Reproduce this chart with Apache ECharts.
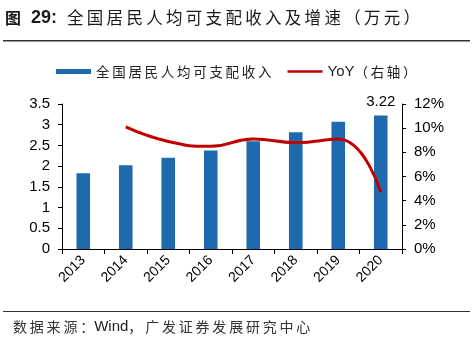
<!DOCTYPE html>
<html><head><meta charset="utf-8">
<script src="https://cdn.jsdelivr.net/npm/echarts@6/dist/echarts.min.js"></script>
<style>html,body{margin:0;padding:0;background:#fff}#c{width:474px;height:347px}</style>
</head><body><div id="c"></div>
<script>
const years = ['2013','2014','2015','2016','2017','2018','2019','2020'];
const income = [1.83, 2.02, 2.20, 2.38, 2.60, 2.82, 3.07, 3.22];
const yoy = [null, 10.1, 8.9, 8.5, 9.1, 8.8, 9.1, 4.7];
const leftTicks = ['0','0.5','1','1.5','2','2.5','3','3.5'];
const rightTicks = ['0%','2%','4%','6%','8%','10%','12%'];
const barName = '全国居民人均可支配收入';
const lineName = 'YoY（右轴）';

const font = '"Liberation Sans", Arial, "Noto Sans CJK SC", sans-serif';
const cjk = '"Noto Sans CJK SC", sans-serif';
const sp = (s) => Array.from(s).join('\u2009');
const chart = echarts.init(document.getElementById('c'), null, {renderer:'canvas'});
chart.setOption({
  animation:false,
  textStyle:{fontFamily:font},
  graphic:[
    {type:'text', left:5, top:9, style:{
      rich:{
        a:{font:'bold 16px ' + cjk, fill:'#1a1a1a'},
        b:{font:'bold 18px "Liberation Sans", Arial', fill:'#1a1a1a'},
        c:{font:'16.5px ' + cjk, fill:'#1a1a1a'}
      },
      text:'{a|图}{b|  29:  }{c|' + sp('全国居民人均可支配收入及增速（万元）') + '}'}},
    {type:'rect', shape:{x:3,y:40,width:467,height:1.5}, style:{fill:'#333'}},
    {type:'rect', shape:{x:3,y:311,width:467,height:1}, style:{fill:'#333'}},
    {type:'text', left:13, top:319, style:{
      rich:{c:{font:'14px ' + cjk, fill:'#333'}, w:{font:'15px "Liberation Sans", Arial', fill:'#222'}},
      text:'{c|' + sp('数据来源：') + '}{w|Wind}{c|' + sp('，广发证券发展研究中心') + '}'}}
  ],
  legend:{
    top:59, left:51, itemGap:16, itemWidth:35, itemHeight:5,
    textStyle:{fontFamily:cjk, fontSize:13.5, color:'#222',
      rich:{y:{fontFamily:'"Liberation Sans", Arial', fontSize:15, color:'#222'},
            z:{fontFamily:cjk, fontSize:13.5, color:'#222'}}},
    formatter:(n)=> n===barName ? sp(n) : '{y|YoY}{z|' + sp('（右轴）') + '}',
    data:[{name:barName, icon:'rect'},
          {name:lineName, icon:'path://M0,0H36V2.5H0Z',
           itemStyle:{color:'#c00000', borderWidth:0}, lineStyle:{color:'#c00000'}}]
  },
  grid:{left:62, right:72, top:104, bottom:98},
  xAxis:{
    type:'category', data:years,
    axisLine:{lineStyle:{color:'#000', width:1}},
    axisTick:{show:true, length:5, lineStyle:{color:'#000'}},
    axisLabel:{rotate:45, fontSize:14, color:'#000', margin:9, fontFamily:font}
  },
  yAxis:[
    {type:'value', min:0, max:3.5, interval:0.5, position:'left',
     axisLine:{show:true, lineStyle:{color:'#000'}},
     axisTick:{show:true, length:4, lineStyle:{color:'#000'}},
     splitLine:{show:false},
     axisLabel:{fontSize:15, color:'#000', margin:12, formatter:v=>leftTicks[Math.round(v/0.5)]}},
    {type:'value', min:0, max:12, interval:2, position:'right',
     axisLine:{show:true, lineStyle:{color:'#000'}},
     axisTick:{show:true, length:4, lineStyle:{color:'#000'}},
     splitLine:{show:false},
     axisLabel:{fontSize:15, color:'#000', margin:12, formatter:v=>rightTicks[Math.round(v/2)]}}
  ],
  series:[
    {name:barName, type:'bar', data:income, barWidth:'32%', itemStyle:{color:'#1f6aad'},
     label:{show:true, position:'top', fontSize:15, color:'#000', distance:6,
       formatter:p=>p.dataIndex===income.length-1?p.value.toFixed(2):''}},
    {name:lineName, type:'line', yAxisIndex:1, data:yoy, smooth:0.5, showSymbol:false, symbol:'none',
     lineStyle:{color:'#c00000', width:3}, itemStyle:{color:'#c00000'}}
  ]
});
</script></body></html>
